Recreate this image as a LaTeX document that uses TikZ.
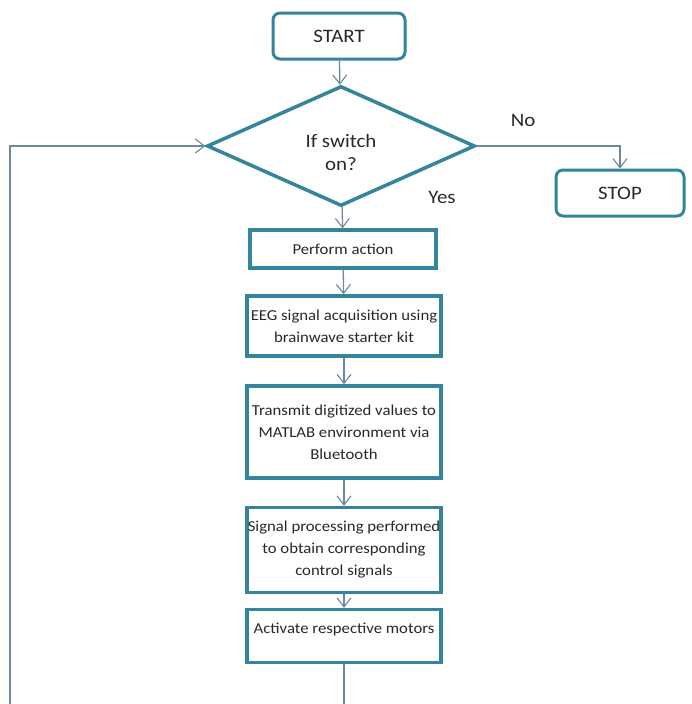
\documentclass[tikz,border=0pt]{standalone}
\usepackage{fontspec}
\setmainfont{Carlito}[FakeStretch=1.1]
\usetikzlibrary{shapes.geometric,arrows.meta}
\definecolor{boxline}{RGB}{52,132,155}
\definecolor{flowline}{RGB}{110,135,160}
\definecolor{txt}{RGB}{40,40,40}

\begin{document}
\begin{tikzpicture}[x=1pt, y=-1pt,
    every node/.style={text=txt, font=\fontsize{15.2}{22}\selectfont},
    bigtext/.style={font=\fontsize{19}{23}\selectfont},
    termbox/.style={draw=boxline, line width=3pt, rounded corners=7pt, minimum width=#1, minimum height=46pt, inner sep=0pt, bigtext},
    procbox/.style={draw=boxline, line width=3.5pt, minimum width=194pt, minimum height=#1, align=center, inner sep=0pt},
    decbox/.style={draw=boxline, line width=3.5pt, diamond, minimum width=268pt, minimum height=120pt, inner sep=0pt, align=center, bigtext},
    flow/.style={draw=flowline, line width=1.3pt, -{Straight Barb[length=9pt, width=14pt, line width=1.1pt]}},
    plain/.style={draw=flowline, line width=1.3pt}]
\useasboundingbox (0,0) rectangle (691,704);

\node (start) at (339, 36) [termbox=132pt] {START};
\node (ifsw) at (341, 146) [decbox, text height=49pt] {If switch\\on?};
\node (stop) at (620, 193) [termbox=128pt] {STOP};
\node (action) at (343, 249) [procbox=38pt, minimum width=186pt] {Perform action};
\node (eeg) at (344, 326) [procbox=60pt] {EEG signal acquisition using\\brainwave starter kit};
\node (send) at (344, 432) [procbox=92pt] {Transmit digitized values to\\MATLAB environment via\\Bluetooth};
\node (proc) at (344, 550) [procbox=85pt] {Signal processing performed\\to obtain corresponding\\control signals};
\node (motors) at (344, 636) [procbox=53pt, text height=18pt, text depth=23pt, inner ysep=6pt] {Activate respective motors};

\node (yes) at (442, 197) [bigtext] {Yes};
\node (no) at (523, 120) [bigtext] {No};

\coordinate (loopbot) at (10, 704);
\coordinate (endbot) at (344, 704);

\draw[flow] (start) -- (ifsw);
\draw[flow] (ifsw.east) -| (stop.north);
\draw[flow] (ifsw) -- (action);
\draw[flow] (action) -- (eeg);
\draw[flow] (eeg) -- (send);
\draw[flow] (send) -- (proc);
\draw[flow] (proc) -- (motors);
\draw[plain] (motors.south) -- (endbot);
\draw[flow] (loopbot) |- (ifsw.west);
\end{tikzpicture}
\end{document}
